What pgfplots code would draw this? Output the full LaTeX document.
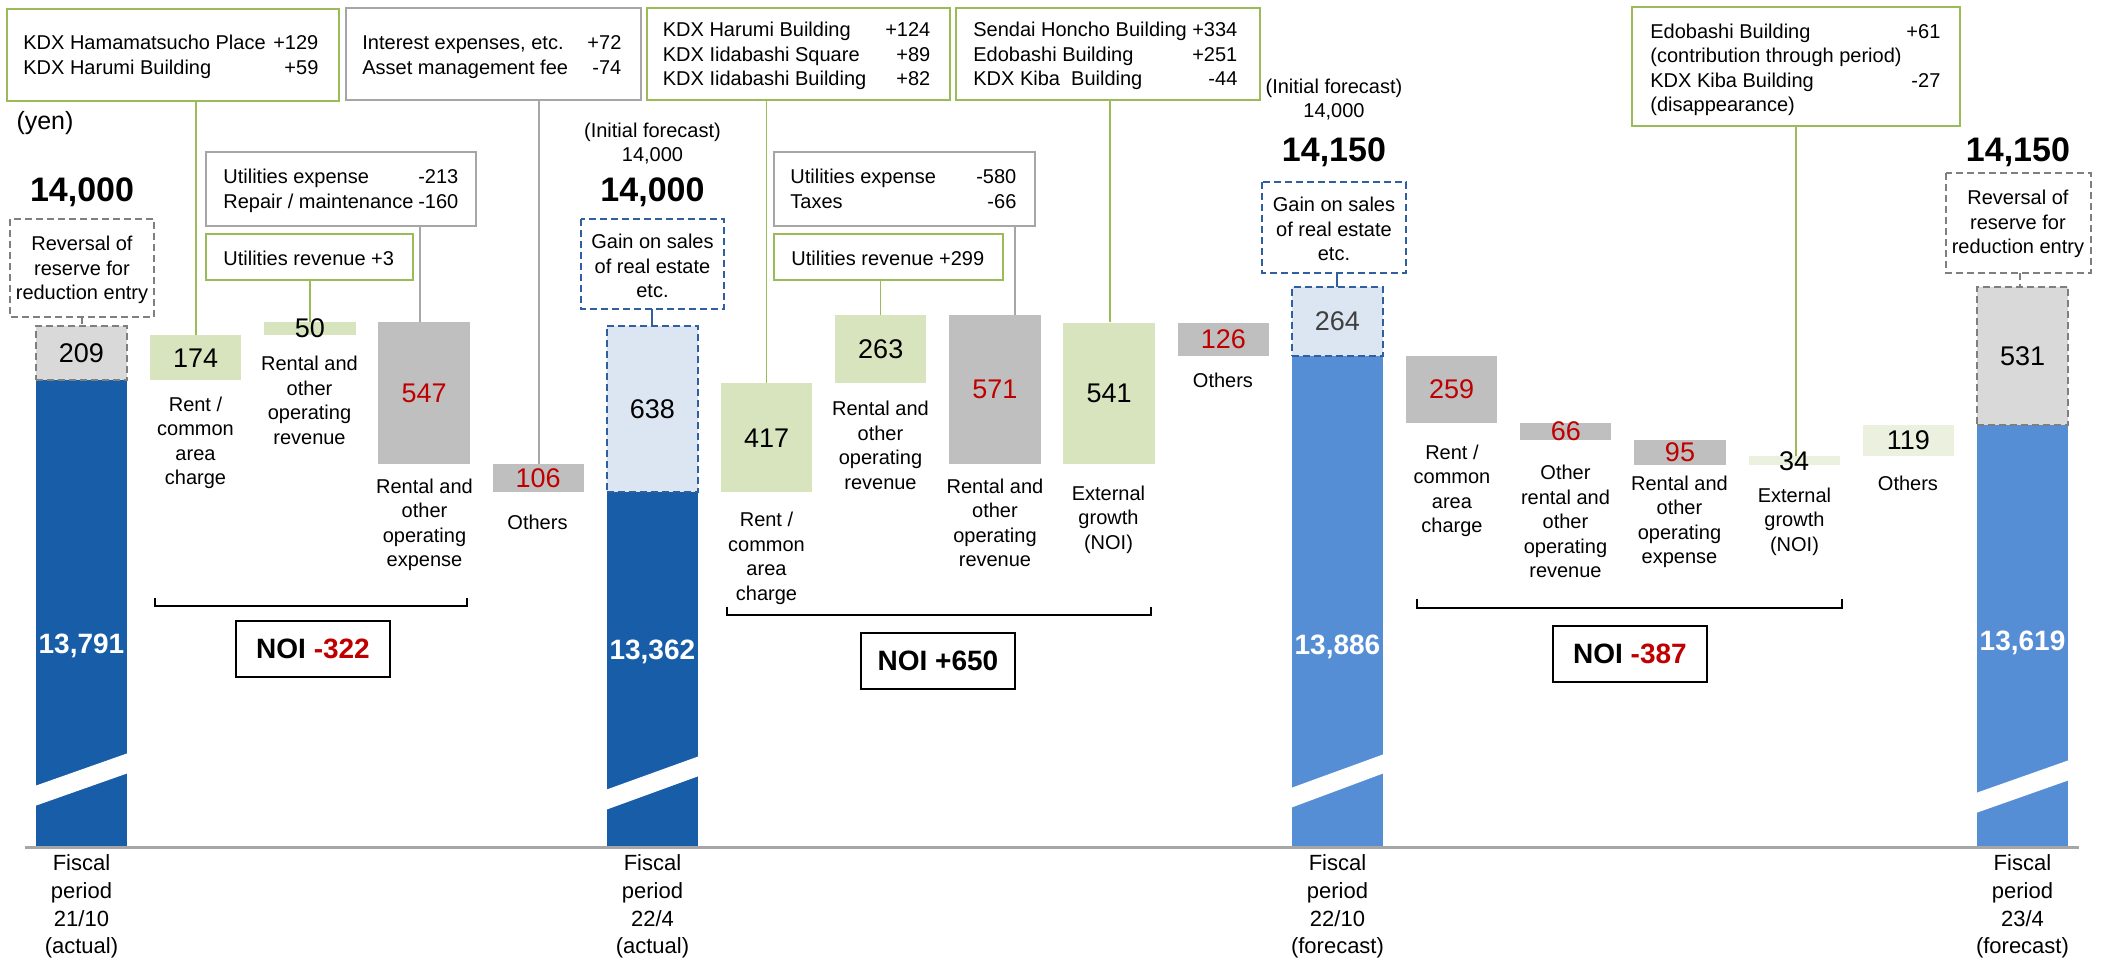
\documentclass[border=0pt]{standalone}
\usepackage{pgfplots}
\pgfplotsset{compat=1.18}
\usepackage{fontspec}
\setmainfont{Liberation Sans}
\definecolor{cDark}{HTML}{175DA8}
\definecolor{cFore}{HTML}{558ED5}
\definecolor{cGreen}{HTML}{D7E4BD}
\definecolor{cLGreen}{HTML}{EBF1DE}
\definecolor{cGray}{HTML}{BFBFBF}
\definecolor{cLGray}{HTML}{D9D9D9}
\definecolor{cLBlue}{HTML}{DCE6F2}
\definecolor{cDashBlue}{HTML}{2F5F9E}
\definecolor{cDashGray}{HTML}{7F7F7F}
\definecolor{cRed}{HTML}{C00000}
\definecolor{cBoxGreen}{HTML}{9BBB59}
\definecolor{cBoxGray}{HTML}{A6A6A6}
\newcommand\fs{\fontsize{10bp}{12.25bp}\selectfont}
\newcommand\fv{\fontsize{13.5bp}{16bp}\selectfont}
\newcommand\fb{\fontsize{17bp}{20bp}\selectfont\bfseries}
\newcommand\fw{\fontsize{14bp}{16bp}\selectfont\bfseries}
\newcommand\ff{\fontsize{11bp}{13.9bp}\selectfont}
\tikzset{
  lbl/.style={align=center,font=\fs,inner sep=0pt},
  lbl2/.style={align=center,font=\ff,inner sep=0pt},
  gbox/.style={draw=cBoxGreen,line width=1.2bp},
  kbox/.style={draw=cBoxGray,line width=1.2bp},
  gline/.style={draw=cBoxGreen,line width=0.9bp},
  kline/.style={draw=cBoxGray,line width=0.9bp},
  dgray/.style={draw=cDashGray,line width=1bp,dash pattern=on 3.5bp off 2bp},
  dblue/.style={draw=cDashBlue,line width=1bp,dash pattern=on 3.5bp off 2bp},
}
\begin{document}
\begin{tikzpicture}[font=\fs]
\useasboundingbox (0,0) rectangle (1051.5bp,480bp);
% ---------- annotations in pixel coordinates (origin top-left) ----------
\begin{scope}[shift={(0bp,480bp)},x=0.5bp,y=-0.5bp]
% top boxes
\draw[gbox] (7,9) rectangle (339,101);
\node[anchor=west,inner sep=0pt,font=\fs] at (23,57) {\begin{tabular*}{147.5bp}{@{}l@{\extracolsep{\fill}}r@{}}KDX Hamamatsucho Place & +129\\ KDX Harumi Building & +59\end{tabular*}};
\draw[kbox] (346,8) rectangle (641,100);
\node[anchor=west,inner sep=0pt,font=\fs] at (362,57) {\begin{tabular*}{129.5bp}{@{}l@{\extracolsep{\fill}}r@{}}Interest expenses, etc. & +72\\ Asset management fee & -74\end{tabular*}};
\draw[gbox] (647,8) rectangle (950,100);
\node[anchor=west,inner sep=0pt,font=\fs] at (662.5,56.5) {\begin{tabular*}{133.75bp}{@{}l@{\extracolsep{\fill}}r@{}}KDX Harumi Building & +124\\ KDX Iidabashi Square & +89\\ KDX Iidabashi Building & +82\end{tabular*}};
\draw[gbox] (956,8) rectangle (1260,100);
\node[anchor=west,inner sep=0pt,font=\fs] at (973,56.5) {\begin{tabular*}{132bp}{@{}l@{\extracolsep{\fill}}r@{}}Sendai Honcho Building & +334\\ Edobashi Building & +251\\ KDX Kiba\ \ Building & -44\end{tabular*}};
\draw[gbox] (1632,7) rectangle (1960,126);
\node[anchor=west,inner sep=0pt,font=\fs] at (1650,70) {\begin{tabular*}{145bp}{@{}l@{\extracolsep{\fill}}r@{}}Edobashi Building & +61\\ (contribution through period) & \\ KDX Kiba Building & -27\\ (disappearance) & \end{tabular*}};
% utilities boxes
\draw[kbox] (206,152) rectangle (476,226);
\node[anchor=west,inner sep=0pt,font=\fs] at (223,191) {\begin{tabular*}{117.5bp}{@{}l@{\extracolsep{\fill}}r@{}}Utilities expense & -213\\ Repair / maintenance & -160\end{tabular*}};
\draw[gbox] (206,234) rectangle (413,280);
\node[anchor=west,inner sep=0pt,font=\fs] at (223,258) {Utilities revenue +3};
\draw[kbox] (774,152) rectangle (1035,226);
\node[anchor=west,inner sep=0pt,font=\fs] at (790,191) {\begin{tabular*}{113bp}{@{}l@{\extracolsep{\fill}}r@{}}Utilities expense & -580\\ Taxes & -66\end{tabular*}};
\draw[gbox] (774,234) rectangle (1003,280);
\node[anchor=west,inner sep=0pt,font=\fs] at (791,258) {Utilities revenue +299};
% connectors
\draw[gline] (196,101)--(196,335);
\draw[kline] (539,100)--(539,464);
\draw[kline] (420,226)--(420,322);
\draw[gline] (310,280)--(310,322);
\draw[gline] (766.5,100)--(766.5,384);
\draw[gline] (880.5,280)--(880.5,315);
\draw[kline] (1015,226)--(1015,315);
\draw[gline] (1110,100)--(1110,322);
\draw[gline] (1796,126)--(1796,456);
\draw[dgray] (82,317)--(82,326);
\draw[draw=cDashBlue,line width=1bp] (652.5,309)--(652.5,326);
\draw[draw=cDashBlue,line width=1bp] (1337.5,273)--(1337.5,287);
\draw[dgray] (2020,273)--(2020,287);
% dashed callouts
\draw[dgray] (10,219) rectangle (154,317);
\node[lbl] at (82,270) {Reversal of\\reserve for\\reduction entry};
\draw[dblue] (581,219) rectangle (724,309);
\node[lbl] at (652.5,266) {Gain on sales\\of real estate\\etc.};
\draw[dblue] (1262,182) rectangle (1406,273);
\node[lbl] at (1334,229) {Gain on sales\\of real estate\\etc.};
\draw[dgray] (1946,173) rectangle (2091,273);
\node[lbl] at (2018,224) {Reversal of\\reserve for\\reduction entry};
% headers
\node[inner sep=0pt,font=\fontsize{12.5bp}{14bp}\selectfont] at (45,123) {(yen)};
\node[inner sep=0pt,font=\fb] at (82,192) {14,000};
\node[inner sep=0pt,font=\fs] at (652.5,132) {(Initial forecast)};
\node[inner sep=0pt,font=\fs] at (652.5,156) {14,000};
\node[inner sep=0pt,font=\fb] at (652.5,192) {14,000};
\node[inner sep=0pt,font=\fs] at (1334,88) {(Initial forecast)};
\node[inner sep=0pt,font=\fs] at (1334,112) {14,000};
\node[inner sep=0pt,font=\fb] at (1334,152) {14,150};
\node[inner sep=0pt,font=\fb] at (2018,152) {14,150};
% category labels
\node[lbl] at (195.5,443) {Rent /\\common\\area\\charge};
\node[lbl] at (309.5,400.5) {Rental and\\other\\operating\\revenue};
\node[lbl] at (424.5,525) {Rental and\\other\\operating\\expense};
\node[lbl] at (537.5,522) {Others};
\node[lbl] at (766.5,558.5) {Rent /\\common\\area\\charge};
\node[lbl] at (880.5,445.5) {Rental and\\other\\operating\\revenue};
\node[lbl] at (995,523) {Rental and\\other\\operating\\revenue};
\node[lbl] at (1108.5,519.5) {External\\growth\\(NOI)};
\node[lbl] at (1223,380) {Others};
\node[lbl] at (1452,491) {Rent /\\common\\area\\charge};
\node[lbl] at (1565.5,521.5) {Other\\rental and\\other\\operating\\revenue};
\node[lbl] at (1679.5,522) {Rental and\\other\\operating\\expense};
\node[lbl] at (1794.5,521.5) {External\\growth\\(NOI)};
\node[lbl] at (1908,483) {Others};
% period labels
\node[lbl2] at (81.5,906.5) {Fiscal\\period\\21/10\\(actual)};
\node[lbl2] at (652.5,906.5) {Fiscal\\period\\22/4\\(actual)};
\node[lbl2] at (1337.5,906.5) {Fiscal\\period\\22/10\\(forecast)};
\node[lbl2] at (2022.5,906.5) {Fiscal\\period\\23/4\\(forecast)};
% brackets and NOI boxes
\draw[line width=1bp] (155,598)--(155,606)--(467,606)--(467,598);
\draw[line width=1bp] (727,607)--(727,615)--(1151,615)--(1151,607);
\draw[line width=1bp] (1417,599)--(1417,608)--(1842,608)--(1842,599);
\draw[line width=0.9bp] (236,621) rectangle (390,677);
\node[inner sep=0pt,font=\fw] at (313,649) {NOI \textcolor{cRed}{-322}};
\draw[line width=0.9bp] (861,633) rectangle (1015,689);
\node[inner sep=0pt,font=\fw] at (938,661) {NOI +650};
\draw[line width=0.9bp] (1553,626) rectangle (1707,682);
\node[inner sep=0pt,font=\fw] at (1630,654) {NOI \textcolor{cRed}{-387}};
\end{scope}
% ---------- waterfall bars ----------
\begin{axis}[at={(0,0)},anchor=south west,scale only axis,width=1051.5bp,height=480bp,
  hide axis,clip=false,xmin=-0.7138,xmax=17.7047,ymin=11563.4,ymax=15252.9]
% Fiscal period 21/10 (actual)
\addplot[fill=cDark,draw=none] coordinates {(-0.4,11995) (0.4,11995) (0.4,13791) (-0.4,13791)} -- cycle;
\addplot[fill=cLGray,dgray] coordinates {(-0.4,13791) (0.4,13791) (0.4,14000) (-0.4,14000)} -- cycle;
\addplot[fill=cGreen,draw=none] coordinates {(0.6,13791) (1.4,13791) (1.4,13965) (0.6,13965)} -- cycle;
\addplot[fill=cGreen,draw=none] coordinates {(1.6,13965) (2.4,13965) (2.4,14015) (1.6,14015)} -- cycle;
\addplot[fill=cGray,draw=none] coordinates {(2.6,13468) (3.4,13468) (3.4,14015) (2.6,14015)} -- cycle;
\addplot[fill=cGray,draw=none] coordinates {(3.6,13362) (4.4,13362) (4.4,13468) (3.6,13468)} -- cycle;
% Fiscal period 22/4 (actual)
\addplot[fill=cDark,draw=none] coordinates {(4.6,11995) (5.4,11995) (5.4,13362) (4.6,13362)} -- cycle;
\addplot[fill=cLBlue,dblue] coordinates {(4.6,13362) (5.4,13362) (5.4,14000) (4.6,14000)} -- cycle;
\addplot[fill=cGreen,draw=none] coordinates {(5.6,13362) (6.4,13362) (6.4,13779) (5.6,13779)} -- cycle;
\addplot[fill=cGreen,draw=none] coordinates {(6.6,13779) (7.4,13779) (7.4,14042) (6.6,14042)} -- cycle;
\addplot[fill=cGray,draw=none] coordinates {(7.6,13471) (8.4,13471) (8.4,14042) (7.6,14042)} -- cycle;
\addplot[fill=cGreen,draw=none] coordinates {(8.6,13471) (9.4,13471) (9.4,14012) (8.6,14012)} -- cycle;
\addplot[fill=cGray,draw=none] coordinates {(9.6,13886) (10.4,13886) (10.4,14012) (9.6,14012)} -- cycle;
% Fiscal period 22/10 (forecast)
\addplot[fill=cFore,draw=none] coordinates {(10.6,11995) (11.4,11995) (11.4,13886) (10.6,13886)} -- cycle;
\addplot[fill=cLBlue,dblue] coordinates {(10.6,13886) (11.4,13886) (11.4,14150) (10.6,14150)} -- cycle;
\addplot[fill=cGray,draw=none] coordinates {(11.6,13627) (12.4,13627) (12.4,13886) (11.6,13886)} -- cycle;
\addplot[fill=cGray,draw=none] coordinates {(12.6,13561) (13.4,13561) (13.4,13627) (12.6,13627)} -- cycle;
\addplot[fill=cGray,draw=none] coordinates {(13.6,13466) (14.4,13466) (14.4,13561) (13.6,13561)} -- cycle;
\addplot[fill=cLGreen,draw=none] coordinates {(14.6,13466) (15.4,13466) (15.4,13500) (14.6,13500)} -- cycle;
\addplot[fill=cLGreen,draw=none] coordinates {(15.6,13500) (16.4,13500) (16.4,13619) (15.6,13619)} -- cycle;
% Fiscal period 23/4 (forecast)
\addplot[fill=cFore,draw=none] coordinates {(16.6,11995) (17.4,11995) (17.4,13619) (16.6,13619)} -- cycle;
\addplot[fill=cLGray,dgray] coordinates {(16.6,13619) (17.4,13619) (17.4,14150) (16.6,14150)} -- cycle;
% axis breaks
\addplot[fill=white,draw=none] coordinates {(-0.41,12155) (0.41,12282) (0.41,12359) (-0.41,12232)} -- cycle;
\addplot[fill=white,draw=none] coordinates {(4.59,12140) (5.41,12271) (5.41,12347) (4.59,12217)} -- cycle;
\addplot[fill=white,draw=none] coordinates {(10.59,12148) (11.41,12282) (11.41,12355) (10.59,12224)} -- cycle;
\addplot[fill=white,draw=none] coordinates {(16.59,12128) (17.41,12255) (17.41,12332) (16.59,12205)} -- cycle;
% baseline
\draw[draw=cBoxGray,line width=1.5bp] (axis cs:-0.495,11995)--(axis cs:17.494,11995);
% value labels
\node[font=\fv,inner sep=0pt] at (axis cs:0,13895.5) {209};
\node[font=\fw,text=white,inner sep=0pt] at (axis cs:0,12770) {13,791};
\node[font=\fv,inner sep=0pt] at (axis cs:1,13878) {174};
\node[font=\fv,inner sep=0pt] at (axis cs:2,13990) {50};
\node[font=\fv,text=cRed,inner sep=0pt] at (axis cs:3,13741.5) {547};
\node[font=\fv,text=cRed,inner sep=0pt] at (axis cs:4,13415) {106};
\node[font=\fv,inner sep=0pt] at (axis cs:5,13681) {638};
\node[font=\fw,text=white,inner sep=0pt] at (axis cs:5,12747) {13,362};
\node[font=\fv,inner sep=0pt] at (axis cs:6,13570.5) {417};
\node[font=\fv,inner sep=0pt] at (axis cs:7,13910.5) {263};
\node[font=\fv,text=cRed,inner sep=0pt] at (axis cs:8,13756.5) {571};
\node[font=\fv,inner sep=0pt] at (axis cs:9,13741.5) {541};
\node[font=\fv,text=cRed,inner sep=0pt] at (axis cs:10,13949) {126};
\node[font=\fv,text=black!75,inner sep=0pt] at (axis cs:11,14018) {264};
\node[font=\fw,text=white,inner sep=0pt] at (axis cs:11,12766) {13,886};
\node[font=\fv,text=cRed,inner sep=0pt] at (axis cs:12,13756.5) {259};
\node[font=\fv,text=cRed,inner sep=0pt] at (axis cs:13,13594) {66};
\node[font=\fv,text=cRed,inner sep=0pt] at (axis cs:14,13513.5) {95};
\node[font=\fv,inner sep=0pt] at (axis cs:15,13481) {34};
\node[font=\fv,inner sep=0pt] at (axis cs:16,13559.5) {119};
\node[font=\fv,inner sep=0pt] at (axis cs:17,13884.5) {531};
\node[font=\fw,text=white,inner sep=0pt] at (axis cs:17,12782) {13,619};
\end{axis}
\end{tikzpicture}
\end{document}
